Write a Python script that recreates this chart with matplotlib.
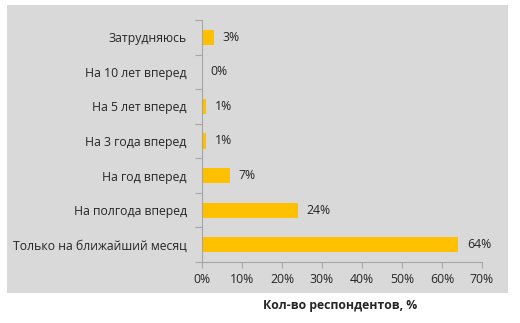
import matplotlib.pyplot as plt
from matplotlib.patches import Rectangle

categories = ['Затрудняюсь', 'На 10 лет вперед', 'На 5 лет вперед', 'На 3 года вперед',
              'На год вперед', 'На полгода вперед', 'Только на ближайший месяц']
values = [3, 0, 1, 1, 7, 24, 64]
xticks = [0, 10, 20, 30, 40, 50, 60, 70]

plt.rcParams['font.family'] = ['Open Sans', 'DejaVu Sans']

W, H = 520, 323
fig = plt.figure(figsize=(W / 100, H / 100), dpi=100)
fig.patch.set_facecolor('white')

# gray plot area background, drawn behind the axes
fig.patches.append(Rectangle((7 / W, 1 - 293 / H), 501 / W, 288 / H,
                             transform=fig.transFigure, facecolor='#d9d9d9',
                             edgecolor='none', zorder=-10))

ax = fig.add_axes([202 / W, 1 - 262 / H, 280 / W, 242 / H])
ax.set_facecolor('none')

ypos = list(range(len(categories)))[::-1]
ax.barh(ypos, values, height=0.44, color='#ffc000')
for y, v in zip(ypos, values):
    ax.text(v + 2.2, y, f'{v}%', va='center', ha='left', fontsize=8.8, color='#262626')

ax.set_xlim(0, 70)
ax.set_ylim(-0.5, len(categories) - 0.5)
ax.set_xticks(xticks)
ax.set_xticklabels([f'{t}%' for t in xticks], fontsize=8.8, color='#262626')
ax.set_yticks(ypos)
ax.set_yticklabels(categories, fontsize=8.8, color='#262626')
ax.set_yticks([i + 0.5 for i in range(-1, len(categories))], minor=True)
ax.tick_params(axis='y', which='major', length=0, pad=11)
ax.tick_params(axis='y', which='minor', length=5, color='#a6a6a6', width=0.8)
ax.tick_params(axis='x', length=4, color='#a6a6a6', width=0.8, pad=4)

for s in ['top', 'right']:
    ax.spines[s].set_visible(False)
for s in ['left', 'bottom']:
    ax.spines[s].set_color('#a6a6a6')
    ax.spines[s].set_linewidth(0.8)

fig.text(340 / W, 1 - 306 / H, 'Кол-во респондентов, %', ha='center', va='center',
         fontsize=8.8, fontweight='bold', color='#262626')

fig.savefig('out.png', dpi=100)
